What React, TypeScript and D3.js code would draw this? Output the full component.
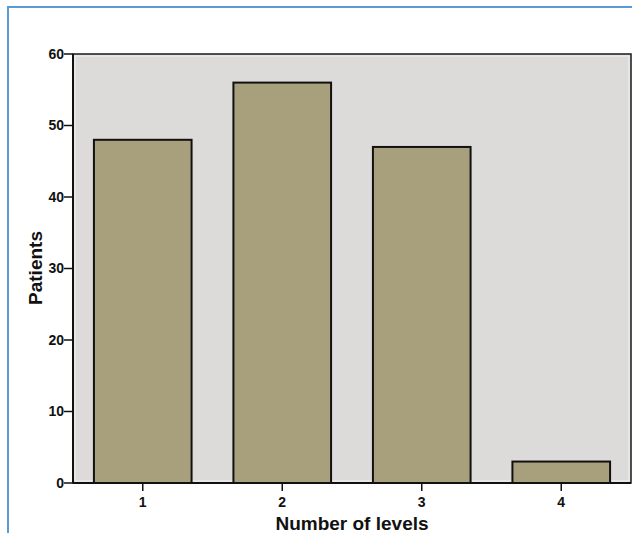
import React from "react";
import * as d3 from "d3";

const categories = ["1", "2", "3", "4"];
const patients = [48, 56, 47, 3];
const yTicks = [0, 10, 20, 30, 40, 50, 60];

export default function App() {
  const W = 632, H = 533;
  const left = 73, right = 631, top = 54, bottom = 483;
  const x = d3.scaleBand<string>().domain(categories).range([left, right]).paddingInner(0.3).paddingOuter(0.15);
  const y = d3.scaleLinear().domain([0, 60]).range([bottom, top]);
  const font = "'Liberation Sans', Arial, sans-serif";
  return (
    <svg width={W} height={H} style={{ position: "absolute", left: 0, top: 0, background: "#fff" }}>
      <rect x={8} y={7} width={W + 10} height={H + 10} fill="#fff" stroke="#5b9bd5" strokeWidth={2} />
      <rect x={left} y={top} width={right - left} height={bottom - top} fill="#dcdbd9" stroke="#1a1a1a" strokeWidth={1.5} />
      <rect x={left + 2} y={top + 2} width={right - left - 4} height={bottom - top - 4} fill="none" stroke="#f2f2f2" strokeWidth={1} />
      {patients.map((v, i) => (
        <rect key={i} x={x(categories[i])!} y={y(v)} width={x.bandwidth()} height={y(0) - y(v)}
          fill="#a8a07c" stroke="#111" strokeWidth={2} />
      ))}
      <line x1={left} x2={right} y1={bottom} y2={bottom} stroke="#111" strokeWidth={2} />
      <line x1={left} x2={left} y1={top} y2={bottom} stroke="#111" strokeWidth={2} />
      {yTicks.map(t => (
        <g key={t}>
          <line x1={left - 9} x2={left} y1={y(t)} y2={y(t)} stroke="#111" strokeWidth={1.5} />
          <text x={left - 9} y={y(t)} dy="0.35em" textAnchor="end" fontFamily={font} fontWeight="bold" fontSize={14} fill="#111">{t}</text>
        </g>
      ))}
      {categories.map(c => (
        <g key={c}>
          <line x1={x(c)! + x.bandwidth() / 2} x2={x(c)! + x.bandwidth() / 2} y1={bottom} y2={bottom + 8} stroke="#111" strokeWidth={1.5} />
          <text x={x(c)! + x.bandwidth() / 2} y={507} textAnchor="middle" fontFamily={font} fontWeight="bold" fontSize={14} fill="#111">{c}</text>
        </g>
      ))}
      <text x={(left + right) / 2} y={530} textAnchor="middle" fontFamily={font} fontWeight="bold" fontSize={19} fill="#111">Number of levels</text>
      <text transform={`translate(42,268) rotate(-90)`} textAnchor="middle" fontFamily={font} fontWeight="bold" fontSize={19} fill="#111">Patients</text>
    </svg>
  );
}
